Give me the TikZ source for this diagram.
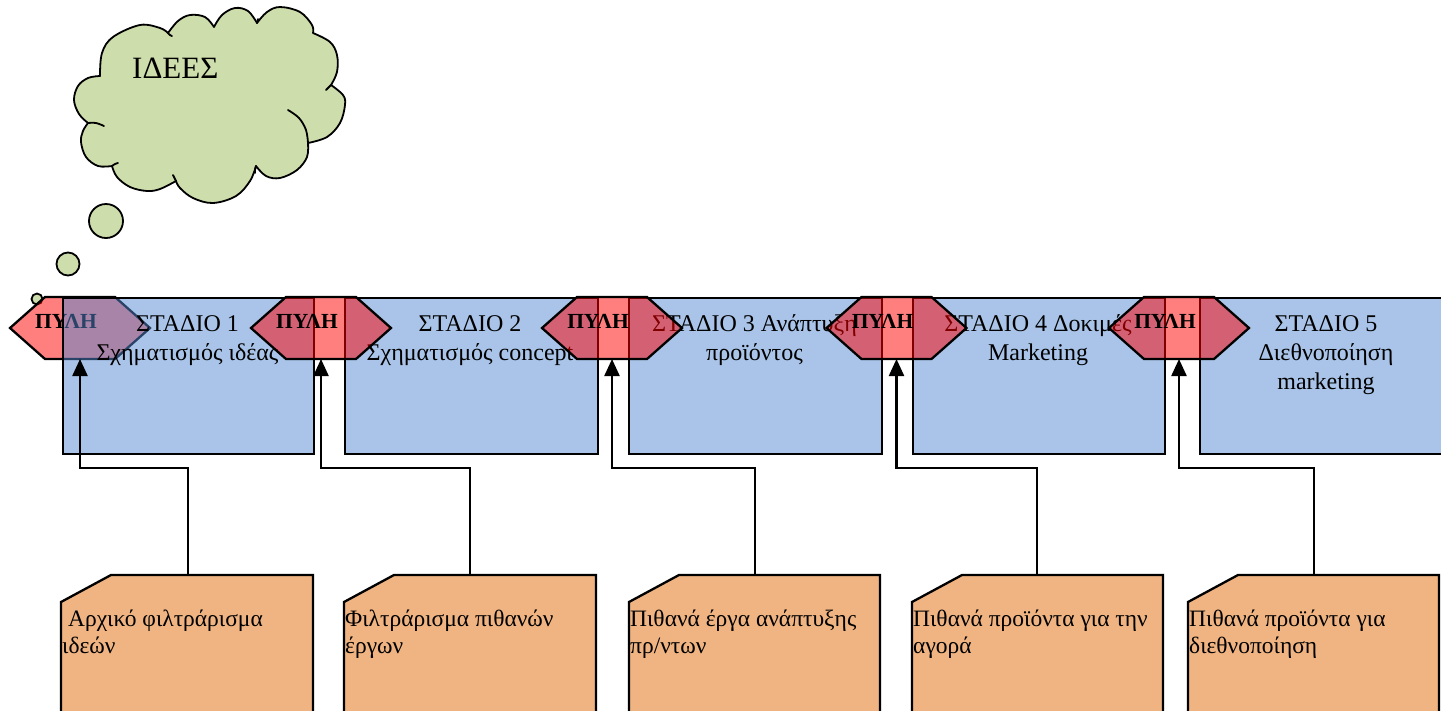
\documentclass[tikz,border=0pt]{standalone}
\usepackage{fontspec}
\setmainfont{Liberation Serif}
\usetikzlibrary{arrows.meta}
\definecolor{boxblue}{RGB}{83,137,209}
\definecolor{orangebox}{RGB}{240,180,130}
\definecolor{cloudgreen}{RGB}{206,221,172}
\tikzset{
  stagebox/.style={draw=black,line width=2.3pt,fill=boxblue,fill opacity=0.5,text opacity=1,minimum height=156pt,inner sep=0pt,anchor=north west},
  gatestyle/.style={draw=black,line width=2.3pt,fill=red,fill opacity=0.5,line join=miter},
  gatetext/.style={font=\fontsize{21.5}{25}\selectfont\bfseries,anchor=base,inner sep=0pt},
  stagetext/.style={font=\fontsize{24}{29}\selectfont,align=center,anchor=base,inner sep=0pt},
  ordtext/.style={font=\fontsize{23.5}{27}\selectfont,align=left,anchor=base west,inner sep=0pt},
  ordbox/.style={draw=black,line width=2.3pt,fill=orangebox},
  conn/.style={draw=black,line width=2.3pt,-{Triangle[length=17pt,width=15pt]}},
  cloudline/.style={draw=black,line width=1.8pt,fill=cloudgreen,line join=round},
  cloudinner/.style={draw=black,line width=1.8pt,line cap=round},
  bubble/.style={draw=black,line width=1.8pt,fill=cloudgreen},
  pics/gatehex/.style={code={
    \path[gatestyle] (-70,0) -- (-35,-31) -- (35,-31) -- (70,0) -- (35,31) -- (-35,31) -- cycle;
    \node[gatetext] (-lab) at (-14,0) {ΠΥΛΗ};
  }}
}
\begin{document}
\begin{tikzpicture}[x=1pt,y=-1pt]
\useasboundingbox (0,0) rectangle (1441,710);
% cloud
\path[cloudline]
  plot[smooth,tension=0.6] coordinates {(88,123) (79,114) (74,100) (78,86) (88,78) (100,76)}
  -- plot[smooth,tension=0.6] coordinates {(100,76) (102,53) (113,37) (140,25) (160,28) (168,33)}
  -- plot[smooth,tension=0.6] coordinates {(168,33) (178,21) (190,15) (205,17) (214,27)}
  -- plot[smooth,tension=0.6] coordinates {(214,27) (222,15) (235,8) (248,11) (257,23)}
  -- plot[smooth,tension=0.6] coordinates {(257,23) (267,12) (280,7) (300,12) (312,25) (313,33)}
  -- plot[smooth,tension=0.6] coordinates {(313,33) (330,42) (337,55) (337,72) (331,85)}
  -- plot[smooth,tension=0.6] coordinates {(331,85) (343,95) (345,105) (340,123) (327,137) (308,143)}
  -- plot[smooth,tension=0.6] coordinates {(308,143) (307,157) (297,170) (280,178) (266,176) (256,166)}
  -- plot[smooth,tension=0.6] coordinates {(256,166) (250,181) (236,196) (213,203) (193,198) (180,188) (176,181)}
  -- plot[smooth,tension=0.6] coordinates {(176,181) (160,189) (147,191) (130,187) (117,177) (112,166)}
  -- plot[smooth,tension=0.6] coordinates {(112,166) (98,166) (86,157) (81,142) (83,131) (88,123)}
  -- cycle;
\draw[cloudinner] plot[smooth,tension=0.6] coordinates {(288,110) (299,118) (306,130) (308,143)};
\draw[cloudinner] plot[smooth,tension=0.6] coordinates {(88,123) (96,123) (104,126)};
\draw[cloudinner] plot[smooth,tension=0.6] coordinates {(112,166) (115,164) (118,163)};
\draw[cloudinner] plot[smooth,tension=0.6] coordinates {(176,181) (174,177) (173,175)};
\draw[cloudinner] plot[smooth,tension=0.6] coordinates {(256,166) (255,170) (255,173)};
\draw[cloudinner] plot[smooth,tension=0.6] coordinates {(331,85) (328,88) (326,90)};
\draw[cloudinner] plot[smooth,tension=0.6] coordinates {(168,33) (170,35) (172,36)};
\draw[cloudinner] plot[smooth,tension=0.6] coordinates {(100,76) (100,72)};
\draw[cloudinner] plot[smooth,tension=0.6] coordinates {(257,23) (258,19)};
\node[font=\fontsize{31}{36}\selectfont,anchor=base west,inner sep=0pt] (idees) at (132,78) {ΙΔΕΕΣ};
\node[bubble,circle,minimum size=34pt,inner sep=0pt] (b1) at (106,221) {};
\node[bubble,circle,minimum size=23pt,inner sep=0pt] (b2) at (68,264) {};
\node[bubble,circle,minimum size=11pt,inner sep=0pt] (b3) at (37,299) {};
% gate 1 (under stage 1)
\pic (g1) at (80,328) {gatehex};
% stage boxes
\node[stagebox,minimum width=251pt] (s1) at (62,297) {};
\node[stagebox,minimum width=253pt] (s2) at (344,297) {};
\node[stagebox,minimum width=253pt] (s3) at (628,297) {};
\node[stagebox,minimum width=252pt] (s4) at (912,297) {};
\node[stagebox,minimum width=254pt] (s5) at (1199,297) {};
\node[stagetext] (t1) at (187.5,360) {ΣΤΑΔΙΟ 1\\Σχηματισμός ιδέας};
\node[stagetext] (t2) at (470,360) {ΣΤΑΔΙΟ 2\\Σχηματισμός concept};
\node[stagetext] (t3) at (754.5,360) {ΣΤΑΔΙΟ 3 Ανάπτυξη\\προϊόντος};
\node[stagetext] (t4) at (1038,360) {ΣΤΑΔΙΟ 4 Δοκιμές\\Marketing};
\node[stagetext] (t5) at (1326,389) {ΣΤΑΔΙΟ 5\\Διεθνοποίηση\\marketing};
% gates 2-5
\pic (g2) at (321,328) {gatehex};
\pic (g3) at (612,328) {gatehex};
\pic (g4) at (896.5,328) {gatehex};
\pic (g5) at (1179,328) {gatehex};
\coordinate (gb1) at (80,359);
\coordinate (gb2) at (321,359);
\coordinate (gb3) at (612,359);
\coordinate (gb4) at (896.5,359);
\coordinate (gb5) at (1179,359);
% orange boxes
\path[ordbox] (61,602) -- (111,575) -- (313,575) -- (313,730) -- (61,730) -- cycle;
\path[ordbox] (344,602) -- (394,575) -- (596,575) -- (596,730) -- (344,730) -- cycle;
\path[ordbox] (629,602) -- (679,575) -- (880,575) -- (880,730) -- (629,730) -- cycle;
\path[ordbox] (912,602) -- (962,575) -- (1163,575) -- (1163,730) -- (912,730) -- cycle;
\path[ordbox] (1188,602) -- (1238,575) -- (1439,575) -- (1439,730) -- (1188,730) -- cycle;
\coordinate (o1) at (188,575);
\coordinate (o2) at (470,575);
\coordinate (o3) at (755,575);
\coordinate (o4) at (1037,575);
\coordinate (o5) at (1314,575);
\node[ordtext] (ot1) at (62,653) {\ Αρχικό φιλτράρισμα\\ιδεών};
\node[ordtext] (ot2) at (345,653) {Φιλτράρισμα πιθανών\\έργων};
\node[ordtext] (ot3) at (630,653) {Πιθανά έργα ανάπτυξης\\πρ/ντων};
\node[ordtext] (ot4) at (913,653) {Πιθανά προϊόντα για την\\αγορά};
\node[ordtext] (ot5) at (1189,653) {Πιθανά προϊόντα για\\διεθνοποίηση};
% connectors
\draw[conn] (o1) -- ++(0,-107) -| (gb1);
\draw[conn] (o2) -- ++(0,-107) -| (gb2);
\draw[conn] (o3) -- ++(0,-107) -| (gb3);
\draw[conn] (o4) -- ++(0,-107) -| (gb4);
\draw[conn] (o5) -- ++(0,-107) -| (gb5);
\end{tikzpicture}
\end{document}
